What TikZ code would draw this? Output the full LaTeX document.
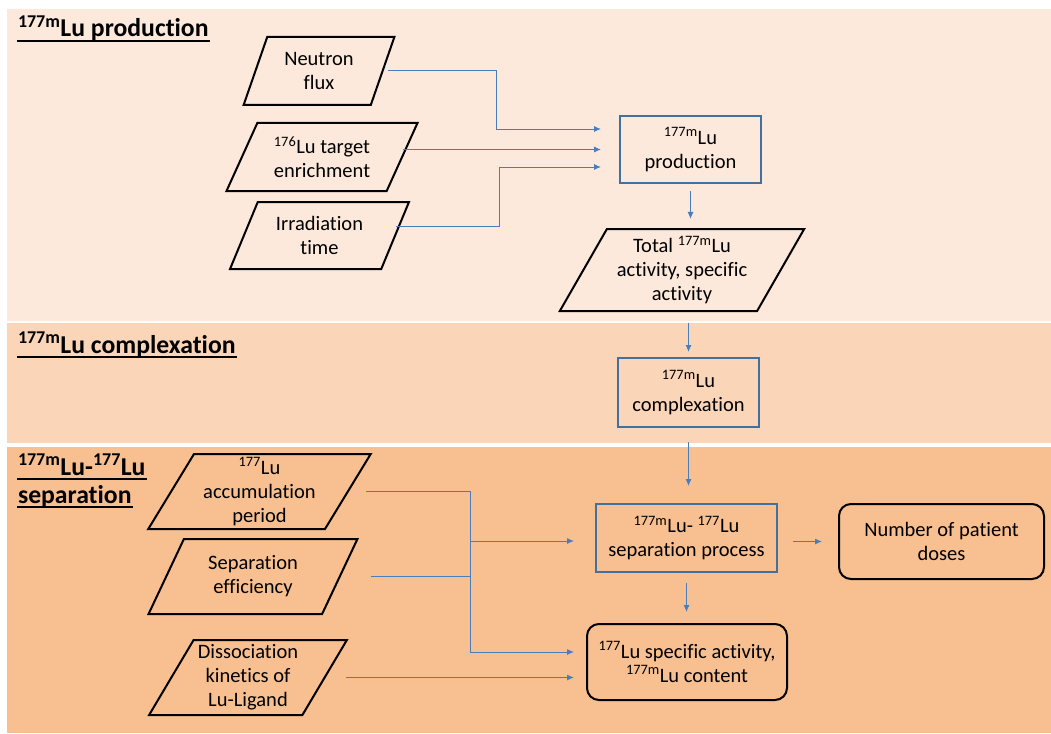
\documentclass[tikz,border=0pt]{standalone}
\usepackage{fontspec}
\setmainfont{Carlito}[Ligatures=NoCommon]
\usetikzlibrary{shapes.geometric,arrows.meta}
\definecolor{bandA}{RGB}{252,233,219}
\definecolor{bandB}{RGB}{250,213,184}
\definecolor{bandC}{RGB}{248,191,144}
\definecolor{linkblue}{RGB}{74,126,187}
\definecolor{boxblue}{RGB}{65,113,156}
\newcommand{\iso}[1]{\textsuperscript{#1}}

\begin{document}
\begin{tikzpicture}[x=1pt,y=-1pt,line width=2pt,font=\fontsize{20.5}{24}\selectfont,
  io/.style={trapezium,trapezium left angle=#1,trapezium right angle=180-#1,trapezium stretches=true,
    draw=black,align=center,inner sep=0pt},
  io/.default=60,
  proc/.style={draw=boxblue,align=center,inner sep=0pt},
  result/.style={draw=black,rounded corners=12pt,align=center,inner sep=0pt},
  head/.style={anchor=base west,inner sep=0pt,font=\bfseries\fontsize{25.7}{30}\selectfont},
  link/.style={draw=linkblue,line width=1pt,-{Latex[length=7pt,width=6pt]}}]
\useasboundingbox[fill=white] (0,0) rectangle (1051,733);
% the three stages
\fill[bandA] (7,9) rectangle (1051,321);
\fill[bandB] (7,323) rectangle (1051,443);
\fill[bandC] (7,447) rectangle (1051,733);
\node[head] (h1) at (17,37) {\iso{177m}Lu production};
\node[head] (h2) at (17,353) {\iso{177m}Lu complexation};
\node[head] (h3a) at (17,475) {\iso{177m}Lu-\iso{177}Lu};
\node[head] (h3b) at (17,503) {separation};
\foreach \h in {h1,h2,h3a,h3b}
  \draw[line width=1.5pt] ([yshift=-4pt]\h.base west) -- ([yshift=-4pt]\h.base east);

% production
\node[io=67,minimum width=151,minimum height=68] (flux) at (319,71) {Neutron\\flux};
\node[io=61,minimum width=191,minimum height=68] (target) at (322,157) {\iso{176}Lu target\\enrichment};
\node[io=63,minimum width=179,minimum height=67] (irr) at (319.5,235.5) {Irradiation\\time};
\node[proc,minimum width=141,minimum height=67] (prod) at (690.5,149.5) {\iso{177m}Lu\\production};
\node[io=59,minimum width=245,minimum height=82] (total) at (682,270) {Total \iso{177m}Lu\\activity, specific\\activity};
\draw[link,shorten <=4,shorten >=18] (flux.east) -- ++(113,0) |- ([yshift=20.5]prod.west);
\draw[link,shorten >=18] (target.east |- prod.west) -- (prod.west);
\draw[link,shorten >=18] ([yshift=9]irr.east) -- ++(103,0) |- ([yshift=-17.5]prod.west);
\draw[link,shorten <=7,shorten >=9] (prod.south) -- (prod.south |- total.north);

% complexation
\node[proc,minimum width=141,minimum height=69] (cplx) at (688.5,392.5) {\iso{177m}Lu\\complexation};
\draw[link,shorten <=11,shorten >=5] (cplx.north |- total.south) -- (cplx.north);

% separation
\node[io=60,minimum width=223,minimum height=75] (acc) at (259.5,491.5) {\iso{177}Lu\\accumulation\\period};
\node[io=61,minimum width=209,minimum height=75] (eff) at (253,576.5) {Separation\\efficiency};
\node[io=58,minimum width=198,minimum height=75] (diss) at (248,677.5) {Dissociation\\kinetics of\\Lu-Ligand};
\node[proc,minimum width=181,minimum height=68] (sep) at (686.5,538) {\iso{177m}Lu- \iso{177}Lu\\separation process};
\node[result,minimum width=205,minimum height=75] (doses) at (941.5,541.5) {Number of patient\\doses};
\node[result,minimum width=200,minimum height=76] (spec) at (687,662) {\iso{177}Lu specific activity,\\\iso{177m}Lu content};
\coordinate (tap) at (470,541);
\coordinate (bus) at (470,652);
\draw[link,-,shorten <=17] (acc.east) -| (bus);
\draw[link,-,shorten <=30] (eff.east) -- (eff.east -| bus);
\draw[link,shorten >=21] (tap) -- (sep.west |- tap);
\draw[link,shorten >=12] (bus) -- (spec.west |- bus);
\draw[link,shorten <=20,shorten >=12] (diss.east) -- (spec.west |- diss.east);
\draw[link,shorten <=14,shorten >=17] (cplx.south) -- (cplx.south |- sep.north);
\draw[link,shorten <=15,shorten >=16] (sep.east |- doses.west) -- (doses.west);
\draw[link,shorten <=10,shorten >=11] (sep.south) -- (sep.south |- spec.north);
\end{tikzpicture}
\end{document}
